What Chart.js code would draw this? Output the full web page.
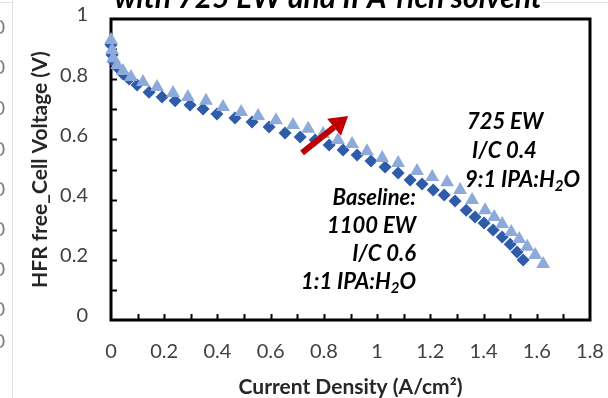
<!DOCTYPE html>
<html>
<head>
	<meta charset="utf-8">
	<title>Polarization Curve</title>
	<script src="https://cdn.jsdelivr.net/npm/chart.js"></script>
	<style>
		body {
			margin: 0;
			background: #ffffff;
		}

		#wrap {
			position: relative;
			width: 608px;
			height: 398px;
		}
	</style>
</head>

<body>
	<div id="wrap"><canvas id="chart" width="608" height="398"></canvas></div>

	<script>
		// Baseline MEA: 1100 EW, I/C 0.6, 1:1 IPA:H2O
		var baselineX = [0.000, 0.004, 0.011, 0.026, 0.045, 0.068, 0.098, 0.143, 0.192, 0.241, 0.297, 0.346, 0.398,
			0.466, 0.530, 0.594, 0.654, 0.711, 0.767, 0.820, 0.872, 0.925, 0.977, 1.030, 1.079, 1.124, 1.169,
			1.211, 1.252, 1.293, 1.335, 1.368, 1.402, 1.436, 1.470, 1.500, 1.526, 1.549];
		var baselineY = [0.914, 0.880, 0.857, 0.837, 0.817, 0.801, 0.781, 0.757, 0.741, 0.728, 0.714, 0.701, 0.684,
			0.671, 0.658, 0.641, 0.621, 0.608, 0.598, 0.581, 0.565, 0.548, 0.528, 0.508, 0.488, 0.465, 0.452,
			0.432, 0.415, 0.395, 0.365, 0.342, 0.322, 0.299, 0.276, 0.252, 0.226, 0.199];

		// 725 EW, I/C 0.4, 9:1 IPA:H2O
		var ew725X = [0.000, 0.004, 0.008, 0.023, 0.045, 0.075, 0.120, 0.173, 0.233, 0.289, 0.357, 0.421, 0.489,
			0.553, 0.620, 0.684, 0.741, 0.797, 0.853, 0.906, 0.962, 1.019, 1.079, 1.150, 1.207, 1.263, 1.312,
			1.357, 1.406, 1.440, 1.470, 1.504, 1.534, 1.564, 1.594, 1.624];
		var ew725Y = [0.930, 0.897, 0.870, 0.847, 0.827, 0.807, 0.791, 0.774, 0.754, 0.741, 0.728, 0.708, 0.691,
			0.678, 0.664, 0.648, 0.635, 0.618, 0.598, 0.585, 0.561, 0.538, 0.522, 0.495, 0.475, 0.458, 0.432,
			0.399, 0.365, 0.342, 0.319, 0.292, 0.269, 0.243, 0.216, 0.186];

		var xRange = [0, 1.8];
		var yRange = [0, 1];
		var majorStep = 0.2;
		var minorStep = 0.1;

		var chartTitle = "with 725 EW and IPA-rich solvent";
		var xTitle = "Current Density (A/cm\u00B2)";
		var yTitle = "HFR free_Cell Voltage (V)";
		var baselineNote = ["Baseline:", "1100 EW", "I/C 0.6", "1:1 IPA:H2O"];
		var ew725Note = ["725 EW", "I/C 0.4", "9:1 IPA:H2O"];
		// arrow tail / tip in data units
		var arrowFrom = [0.718, 0.555];
		var arrowTo = [0.891, 0.678];

		function toPoints(xs, ys) {
			var pts = [];
			for (var i = 0; i < xs.length; i++) {
				pts.push({ x: xs[i], y: ys[i] });
			}
			return pts;
		}

		// writes a line, dropping the "2" of H2O to a subscript
		function noteLine(ctx, text, x, y, align) {
			var big = "bold italic 22px Lato";
			var small = "bold italic 15px Lato";
			var parts = text.indexOf("H2O") >= 0 ? [text.split("H2O")[0] + "H", "2", "O"] : [text];
			var w = 0;
			for (var i = 0; i < parts.length; i++) {
				ctx.font = (parts.length > 1 && i === 1) ? small : big;
				w += ctx.measureText(parts[i]).width;
			}
			var cx = align === "right" ? x - w : x;
			ctx.textAlign = "left";
			for (var j = 0; j < parts.length; j++) {
				var sub = parts.length > 1 && j === 1;
				ctx.font = sub ? small : big;
				ctx.fillText(parts[j], cx, sub ? y + 6 : y);
				cx += ctx.measureText(parts[j]).width;
			}
		}

		var framePlugin = {
			id: "frame",
			beforeDatasetsDraw: function (chart) {
				var ctx = chart.ctx;
				var a = chart.chartArea;
				var xs = chart.scales.x;
				var ys = chart.scales.y;
				ctx.save();
				ctx.strokeStyle = "#000000";
				ctx.lineWidth = 2;
				var v, p;
				for (v = xRange[0] + minorStep; v < xRange[1] - 0.01; v += minorStep) {
					p = Math.round(xs.getPixelForValue(v)) + 0.5;
					ctx.beginPath();
					ctx.moveTo(p, a.bottom);
					ctx.lineTo(p, a.bottom - 6);
					ctx.stroke();
				}
				for (v = yRange[0] + minorStep; v < yRange[1] - 0.01; v += minorStep) {
					p = Math.round(ys.getPixelForValue(v)) + 0.5;
					ctx.beginPath();
					ctx.moveTo(a.left, p);
					ctx.lineTo(a.left + 6, p);
					ctx.stroke();
				}
				ctx.lineWidth = 3;
				ctx.strokeRect(a.left, a.top, a.right - a.left, a.bottom - a.top);
				ctx.restore();
			},
			afterDatasetsDraw: function (chart) {
				var ctx = chart.ctx;
				var xs = chart.scales.x;
				var ys = chart.scales.y;
				ctx.save();

				// red arrow
				var x0 = xs.getPixelForValue(arrowFrom[0]), y0 = ys.getPixelForValue(arrowFrom[1]);
				var x1 = xs.getPixelForValue(arrowTo[0]), y1 = ys.getPixelForValue(arrowTo[1]);
				var ang = Math.atan2(y1 - y0, x1 - x0);
				var head = 18;
				var bx = x1 - head * Math.cos(ang), by = y1 - head * Math.sin(ang);
				ctx.strokeStyle = "#c00000";
				ctx.fillStyle = "#c00000";
				ctx.lineWidth = 6;
				ctx.beginPath();
				ctx.moveTo(x0, y0);
				ctx.lineTo(bx, by);
				ctx.stroke();
				ctx.beginPath();
				ctx.moveTo(x1, y1);
				ctx.lineTo(bx + 11 * Math.sin(ang), by - 11 * Math.cos(ang));
				ctx.lineTo(bx - 11 * Math.sin(ang), by + 11 * Math.cos(ang));
				ctx.closePath();
				ctx.fill();

				// series notes
				ctx.fillStyle = "#000000";
				ctx.textBaseline = "middle";
				var i;
				for (i = 0; i < baselineNote.length; i++) {
					noteLine(ctx, baselineNote[i], 416, 198 + i * 28, "right");
				}
				var lefts = [467, 472, 465];
				for (i = 0; i < ew725Note.length; i++) {
					noteLine(ctx, ew725Note[i], lefts[i], 122 + i * 29, "left");
				}

				// title, cut off along the top edge
				ctx.font = "bold italic 30px Lato";
				ctx.textAlign = "center";
				ctx.textBaseline = "alphabetic";
				ctx.fillText(chartTitle, 328, 8);

				// neighbouring chart's axis labels peeking in on the left
				ctx.fillStyle = "#7f7f7f";
				ctx.font = "20px Lato";
				ctx.textAlign = "right";
				ctx.textBaseline = "middle";
				var ghostRows = [28, 68, 109, 150, 190, 230, 270, 310, 342];
				for (i = 0; i < ghostRows.length; i++) {
					ctx.fillText("0", 5, ghostRows[i]);
				}
				ctx.strokeStyle = "#e2e2e2";
				ctx.lineWidth = 1;
				ctx.beginPath();
				ctx.moveTo(12.5, 0);
				ctx.lineTo(12.5, 398);
				ctx.moveTo(0, 2.5);
				ctx.lineTo(12, 2.5);
				ctx.moveTo(542, 2.5);
				ctx.lineTo(608, 2.5);
				ctx.stroke();
				ctx.restore();
			}
		};

		var ctx = document.getElementById("chart").getContext("2d");
		var chart = new Chart(ctx, {
			type: "scatter",
			data: {
				datasets: [
					{
						label: "725 EW, I/C 0.4, 9:1 IPA:H2O",
						data: toPoints(ew725X, ew725Y),
						pointStyle: "triangle",
						pointRadius: 8,
						backgroundColor: "#8eaadb",
						borderWidth: 0,
						clip: false,
					},
					{
						label: "Baseline: 1100 EW, I/C 0.6, 1:1 IPA:H2O",
						data: toPoints(baselineX, baselineY),
						pointStyle: "rectRot",
						pointRadius: 6.5,
						backgroundColor: "#2f5ca8",
						borderWidth: 0,
						clip: false,
					},
				],
			},
			options: {
				responsive: false,
				animation: false,
				layout: { padding: { top: 19, right: 18, left: 0, bottom: 0 } },
				plugins: {
					legend: { display: false },
					tooltip: { enabled: false },
				},
				scales: {
					x: {
						type: "linear",
						min: xRange[0],
						max: xRange[1],
						grid: { display: false, drawTicks: false },
						border: { display: false },
						ticks: {
							stepSize: majorStep,
							padding: 20,
							color: "#404040",
							font: { family: "Lato", size: 20 },
							callback: function (v) { return Math.round(v * 10) / 10; },
						},
						title: {
							display: true,
							text: xTitle,
							color: "#262626",
							font: { family: "Lato", size: 21, weight: "bold", lineHeight: 1 },
							padding: { top: 0, bottom: 0 },
						},
						// fixed band under the plot, no extra side padding for end labels
						afterFit: function (s) {
							s.height = 78;
							s.paddingLeft = 0;
							s.paddingRight = 0;
						},
					},
					y: {
						type: "linear",
						min: yRange[0],
						max: yRange[1],
						grid: { display: false, drawTicks: false },
						border: { display: false },
						ticks: {
							stepSize: majorStep,
							padding: 23,
							labelOffset: -4,
							color: "#404040",
							font: { family: "Lato", size: 20 },
							callback: function (v) { return Math.round(v * 10) / 10; },
						},
						title: {
							display: true,
							text: yTitle,
							color: "#262626",
							font: { family: "Lato", size: 21, weight: "bold", lineHeight: 1 },
							padding: { top: 30, bottom: 0 },
						},
						afterFit: function (s) {
							s.width = 111;
							s.paddingTop = 0;
							s.paddingBottom = 0;
						},
					},
				},
			},
			plugins: [framePlugin],
		});
	</script>
</body>

</html>
